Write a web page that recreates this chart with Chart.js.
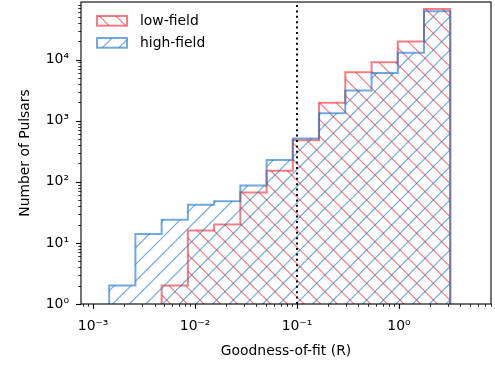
<!DOCTYPE html>
<html><head><meta charset="utf-8">
<script src="https://cdn.jsdelivr.net/npm/chart.js"></script>
<style>html,body{margin:0;padding:0;background:#fff;overflow:hidden}#wrap{width:495px;height:367px}</style>
</head><body><div id="wrap"><canvas id="c" width="495" height="367"></canvas></div>
<script>
// ---- data ----
const binEdges = [0.001435, 0.002597, 0.004697, 0.00850, 0.01537, 0.02780, 0.0503, 0.09095, 0.1645, 0.2976, 0.5383, 0.9736, 1.761, 3.186];
const lowField  = [0, 0, 2, 16, 20, 67, 152, 481, 1972, 6235, 9070, 19900, 67900];
const highField = [2, 14, 24, 42, 48, 87, 227, 511, 1325, 3140, 6080, 13050, 62100];
const seriesNames = ['low-field', 'high-field'];
const xTickValues = [1e-3, 1e-2, 1e-1, 1];
const xTickLabels = ['10⁻³', '10⁻²', '10⁻¹', '10⁰'];
const yTickValues = [1, 10, 100, 1000, 10000];
const yTickLabels = ['10⁰', '10¹', '10²', '10³', '10⁴'];
const xRange = [7.6e-4, 8.0];
const yRange = [1, 88000];
const threshold = 0.1;

// ---- styles ----
const RED = 'rgba(235,40,50,0.6)';
const BLUE = 'rgba(20,112,200,0.6)';
const FONT = '"DejaVu Sans", "Liberation Sans", sans-serif';

function makeHatch(color, dir) {
  const S = 50, c = document.createElement('canvas');
  c.width = S; c.height = S;
  const g = c.getContext('2d');
  g.strokeStyle = color; g.lineWidth = 1.2;
  for (let k = -6; k <= 9; k++) {
    const o = k * S / 3;
    g.beginPath();
    if (dir === '/') { g.moveTo(o + 20, -20); g.lineTo(o - S - 20, S + 20); }
    else { g.moveTo(o - 20, -20); g.lineTo(o + S + 20, S + 20); }
    g.stroke();
  }
  return g.createPattern(c, 'repeat');
}

function histPoints(edges, counts, base) {
  let s = 0; while (s < counts.length && counts[s] <= 0) s++;
  const pts = [{x: edges[s], y: base}];
  for (let i = s; i < counts.length; i++) pts.push({x: edges[i], y: counts[i]});
  pts.push({x: edges[counts.length], y: base});
  return pts;
}

function labelFor(values, labels, v) {
  const i = values.findIndex(t => Math.abs(Math.log10(t) - Math.log10(v)) < 1e-6);
  return i >= 0 ? labels[i] : '';
}

function minorTicks(min, max) {
  const out = [];
  for (let n = Math.floor(Math.log10(min)); n <= Math.ceil(Math.log10(max)); n++)
    for (let k = 2; k <= 9; k++) { const v = k * Math.pow(10, n); if (v >= min && v <= max) out.push(v); }
  return out;
}

const framePlugin = {
  id: 'frame',
  afterDraw(chart) {
    const {ctx, chartArea: ca, scales} = chart;
    ctx.save();
    ctx.strokeStyle = '#000';
    const drawX = (vals, len, w) => {
      ctx.lineWidth = w;
      vals.forEach(v => { const p = Math.round(scales.x.getPixelForValue(v)) + 0.5;
        ctx.beginPath(); ctx.moveTo(p, ca.bottom); ctx.lineTo(p, ca.bottom + len); ctx.stroke(); });
    };
    const drawY = (vals, len, w) => {
      ctx.lineWidth = w;
      vals.forEach(v => { const p = Math.round(scales.y.getPixelForValue(v)) + 0.5;
        ctx.beginPath(); ctx.moveTo(ca.left, p); ctx.lineTo(ca.left - len, p); ctx.stroke(); });
    };
    drawX(minorTicks(xRange[0], xRange[1]), 2.8, 0.8);
    drawX(xTickValues, 4.9, 1.1);
    drawY(minorTicks(yRange[0], yRange[1]), 2.8, 0.8);
    drawY(yTickValues, 4.9, 1.1);
    ctx.lineWidth = 1.1;
    ctx.strokeRect(ca.left, ca.top, ca.right - ca.left, ca.bottom - ca.top);
    // legend
    const dsets = [chart.data.datasets[0], chart.data.datasets[1]];
    dsets.forEach((ds, i) => {
      const x = ca.left + 16, y = ca.top + 14 + i * 22, w = 30, h = 9.7;
      ctx.fillStyle = ds.backgroundColor; ctx.fillRect(x, y, w, h);
      ctx.strokeStyle = ds.borderColor; ctx.lineWidth = 2; ctx.strokeRect(x, y, w, h);
      ctx.fillStyle = '#000'; ctx.font = '13.9px ' + FONT; ctx.textBaseline = 'middle'; ctx.textAlign = 'left';
      ctx.fillText(seriesNames[i], x + 43, y + h / 2 + 0.5);
    });
    ctx.restore();
  }
};

const tickFont = {family: FONT, size: 13.9};

new Chart(document.getElementById('c'), {
  type: 'line',
  data: {
    datasets: [
      {label: seriesNames[0], data: histPoints(binEdges, lowField, yRange[0]), stepped: true,
       borderColor: RED, borderWidth: 2, backgroundColor: makeHatch(RED, '\\'), fill: 'start',
       pointRadius: 0, order: 2},
      {label: seriesNames[1], data: histPoints(binEdges, highField, yRange[0]), stepped: true,
       borderColor: BLUE, borderWidth: 2, backgroundColor: makeHatch(BLUE, '/'), fill: 'start',
       pointRadius: 0, order: 1},
      {label: 'threshold', data: [{x: threshold, y: yRange[0]}, {x: threshold, y: yRange[1]}],
       borderColor: '#000', borderWidth: 2, borderDash: [2, 3.4], fill: false, pointRadius: 0, order: 0}
    ]
  },
  options: {
    responsive: false, animation: false, devicePixelRatio: 1,
    layout: {padding: {top: 2, right: 4, left: 0, bottom: 0}},
    plugins: {legend: {display: false}, tooltip: {enabled: false}},
    scales: {
      x: {type: 'logarithmic', min: xRange[0], max: xRange[1],
          grid: {display: false, drawTicks: false}, border: {display: false},
          ticks: {autoSkip: false, maxRotation: 0, padding: 14, color: '#000', font: tickFont,
                  callback: v => labelFor(xTickValues, xTickLabels, v)},
          afterBuildTicks: s => { s.ticks = xTickValues.map(v => ({value: v})); },
          afterFit: s => { s.height = 63; s.paddingLeft = 0; s.paddingRight = 0; },
          title: {display: true, text: 'Goodness-of-fit (R)', color: '#000', font: tickFont, padding: {top: 0, bottom: 7}}},
      y: {type: 'logarithmic', min: yRange[0], max: yRange[1],
          grid: {display: false, drawTicks: false}, border: {display: false},
          ticks: {autoSkip: false, padding: 12, color: '#000', font: tickFont,
                  callback: v => labelFor(yTickValues, yTickLabels, v)},
          afterBuildTicks: s => { s.ticks = yTickValues.map(v => ({value: v})); },
          afterFit: s => { s.width = 81; s.paddingTop = 0; s.paddingBottom = 0; },
          title: {display: true, text: 'Number of Pulsars', color: '#000', font: tickFont, padding: {top: 16.6, bottom: 0}}}
    }
  },
  plugins: [framePlugin]
});
</script></body></html>
